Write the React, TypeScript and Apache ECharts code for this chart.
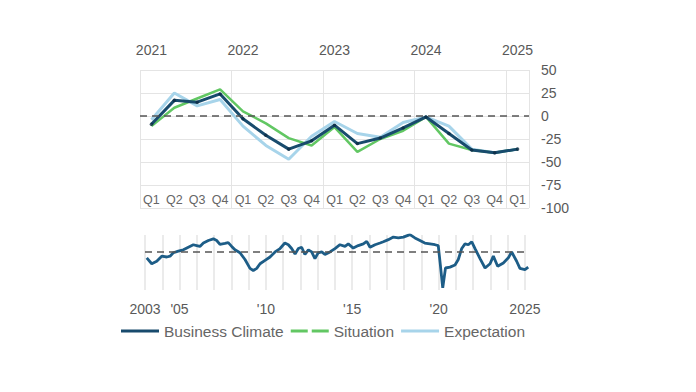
import React, { useEffect, useRef } from "react";
import * as echarts from "echarts";

// Top chart: quarterly, 2021 Q1 .. 2025 Q1
const periods = [
  "2021 Q1", "2021 Q2", "2021 Q3", "2021 Q4",
  "2022 Q1", "2022 Q2", "2022 Q3", "2022 Q4",
  "2023 Q1", "2023 Q2", "2023 Q3", "2023 Q4",
  "2024 Q1", "2024 Q2", "2024 Q3", "2024 Q4",
  "2025 Q1",
];
const businessClimate = [-9, 17, 15, 24, -3, -21, -36, -27, -10, -30, -24, -13, -1, -19, -37, -40, -36];
const situation = [-11, 9, 19, 29, 5, -8, -24, -32, -12, -39, -25, -16, -1, -30, -37, -40, -36];
const expectation = [-4, 25, 11, 18, -11, -32, -47, -22, -6, -19, -23, -7, -1, -11, -36, -40, -36];
const yTicks = { min: -100, max: 50, interval: 25 };

// Bottom chart: long history of business climate (decimal years)
const longYears = [
  2003.1, 2003.39, 2003.68, 2003.97, 2004.26, 2004.45, 2004.64, 2004.93, 2005.22, 2005.51,
  2005.8, 2005.99, 2006.18, 2006.38, 2006.67, 2006.96, 2007.15, 2007.34, 2007.63, 2007.82,
  2008.02, 2008.21, 2008.5, 2008.79, 2009.08, 2009.27, 2009.47, 2009.66, 2009.95, 2010.24,
  2010.53, 2010.82, 2011.1, 2011.3, 2011.49, 2011.69, 2011.88, 2012.07, 2012.26, 2012.46,
  2012.65, 2012.84, 2013.03, 2013.23, 2013.42, 2013.71, 2014.0, 2014.29, 2014.58, 2014.77,
  2015.06, 2015.35, 2015.64, 2015.84, 2016.03, 2016.32, 2016.61, 2016.8, 2017.09, 2017.38,
  2017.67, 2017.96, 2018.34, 2018.63, 2018.92, 2019.2, 2019.5, 2019.79, 2019.98, 2020.1,
  2020.24, 2020.4, 2020.66, 2020.95, 2021.14, 2021.34, 2021.53, 2021.72, 2021.92, 2022.11,
  2022.4, 2022.69, 2022.98, 2023.17, 2023.42, 2023.75, 2024.04, 2024.23, 2024.52, 2024.71,
  2025.0, 2025.19,
];
const longValues = [
  -14, -28, -22, -10, -12, -10, -2, 2, 5, 11,
  17, 15, 13, 21, 27, 31, 27, 18, 20, 22,
  13, 5, -2, -18, -39, -44, -39, -28, -20, -12,
  0, 8, 21, 17, 8, -5, 8, 11, -6, 5,
  0, -16, -2, 0, -6, 0, 8, 17, 13, 19,
  9, 15, 19, 25, 11, 17, 21, 24, 29, 35,
  33, 35, 41, 33, 27, 21, 19, 17, 15, -30,
  -85, -38, -36, -31, -18, 8, 19, 17, 24, 8,
  -16, -38, -28, -10, -34, -26, -14, 0, -22, -39,
  -42, -36,
];
const longLabels: Record<number, string> = { 2003: "2003", 2005: "'05", 2010: "'10", 2015: "'15", 2020: "'20", 2025: "2025" };

const FONT = "'Liberation Sans', Arial, sans-serif";
const NAVY = "#184b6d";
const GREEN = "#62c763";
const LIGHT = "#a7d4ea";
const LONG = "#1d5d87";
const GRIDC = "#e4e4e4";
const TXT = "#595959";

const SOLID_ICON = "path://M0,0 H38 V3 H0 Z";
const DASH_ICON = "path://M0,0 H17 V3 H0 Z M21,0 H38 V3 H21 Z";

export default function App() {
  const ref = useRef<HTMLDivElement>(null);
  useEffect(() => {
    if (!ref.current) return;
    const chart = echarts.init(ref.current, undefined, { renderer: "svg" });
    const zeroDash = {
      silent: true,
      symbol: "none",
      label: { show: false },
      lineStyle: { color: "#555", type: [7, 5], width: 1.5 },
    };
    chart.setOption({
      animation: false,
      textStyle: { fontFamily: FONT },
      legend: {
        left: 121,
        top: 323,
        padding: 0,
        itemWidth: 38,
        itemHeight: 3,
        itemGap: 7,
        textStyle: { fontSize: 15.5, color: "#666", fontFamily: FONT },
        data: [
          { name: "Business Climate", icon: SOLID_ICON },
          { name: "Situation", icon: DASH_ICON },
          { name: "Expectation", icon: SOLID_ICON },
        ],
      },
      grid: [
        { left: 140, top: 70, width: 389, height: 138 },
        { left: 145, top: 235, width: 383.4, height: 55 },
      ],
      xAxis: [
        {
          type: "category",
          gridIndex: 0,
          data: periods,
          boundaryGap: true,
          axisLine: { show: false },
          axisTick: { show: false },
          axisLabel: {
            inside: true,
            margin: 2,
            fontSize: 12.5,
            color: "#666",
            interval: 0,
            formatter: (v: string) => v.split(" ")[1],
          },
          splitLine: {
            show: true,
            interval: (i: number) => i % 4 === 0,
            lineStyle: { color: GRIDC, width: 1 },
          },
        },
        {
          type: "category",
          gridIndex: 0,
          position: "top",
          data: periods,
          boundaryGap: true,
          axisLine: { show: false },
          axisTick: { show: false },
          splitLine: { show: false },
          axisLabel: {
            margin: 13,
            fontSize: 14,
            color: TXT,
            interval: 0,
            formatter: (v: string) => (v.endsWith("Q1") ? v.split(" ")[0] : ""),
          },
        },
        {
          type: "value",
          gridIndex: 1,
          min: 2003,
          max: 2025.2,
          interval: 1,
          axisLine: { show: false },
          axisTick: { show: false },
          axisLabel: {
            margin: 12,
            fontSize: 14,
            color: TXT,
            showMaxLabel: false,
            formatter: (v: number) => longLabels[Math.round(v * 100) / 100] ?? "",
          },
          splitLine: { show: true, showMaxLine: false, lineStyle: { color: GRIDC, width: 1.5 } },
        },
      ],
      yAxis: [
        {
          type: "value",
          gridIndex: 0,
          position: "right",
          min: yTicks.min,
          max: yTicks.max,
          interval: yTicks.interval,
          axisLine: { show: false },
          axisTick: { show: false },
          axisLabel: { margin: 12, fontSize: 14, color: TXT },
          splitLine: { show: true, lineStyle: { color: GRIDC, width: 1 } },
        },
        {
          type: "value",
          gridIndex: 1,
          min: -90,
          max: 40,
          show: false,
          splitLine: { show: false },
        },
      ],
      series: [
        {
          name: "Expectation",
          type: "line",
          xAxisIndex: 0,
          yAxisIndex: 0,
          data: expectation,
          symbol: "none",
          lineStyle: { color: LIGHT, width: 3 },
          itemStyle: { color: LIGHT },
          z: 2,
        },
        {
          name: "Situation",
          type: "line",
          xAxisIndex: 0,
          yAxisIndex: 0,
          data: situation,
          symbol: "none",
          lineStyle: { color: GREEN, width: 2.5 },
          itemStyle: { color: GREEN },
          z: 3,
        },
        {
          name: "Business Climate",
          type: "line",
          xAxisIndex: 0,
          yAxisIndex: 0,
          data: businessClimate,
          symbol: "none",
          lineStyle: { color: NAVY, width: 3 },
          itemStyle: { color: NAVY },
          z: 4,
          markLine: { ...zeroDash, data: [{ yAxis: 0 }] },
        },
        {
          type: "scatter",
          xAxisIndex: 0,
          yAxisIndex: 0,
          data: businessClimate,
          symbolSize: 3.5,
          itemStyle: { color: "#0c2c44" },
          silent: true,
          z: 5,
        },
        {
          name: "Business Climate",
          type: "line",
          xAxisIndex: 2,
          yAxisIndex: 1,
          data: longYears.map((x, i) => [x, longValues[i]]),
          symbol: "none",
          lineStyle: { color: LONG, width: 2.8 },
          itemStyle: { color: LONG },
          z: 4,
          markLine: { ...zeroDash, data: [[{ coord: [2003, 0] }, { coord: [2025, 0] }]] },
        },
      ],
    });
    return () => chart.dispose();
  }, []);
  return (
    <div
      ref={ref}
      style={{ position: "fixed", left: 0, top: 0, width: 696, height: 392, background: "#fff" }}
    />
  );
}
